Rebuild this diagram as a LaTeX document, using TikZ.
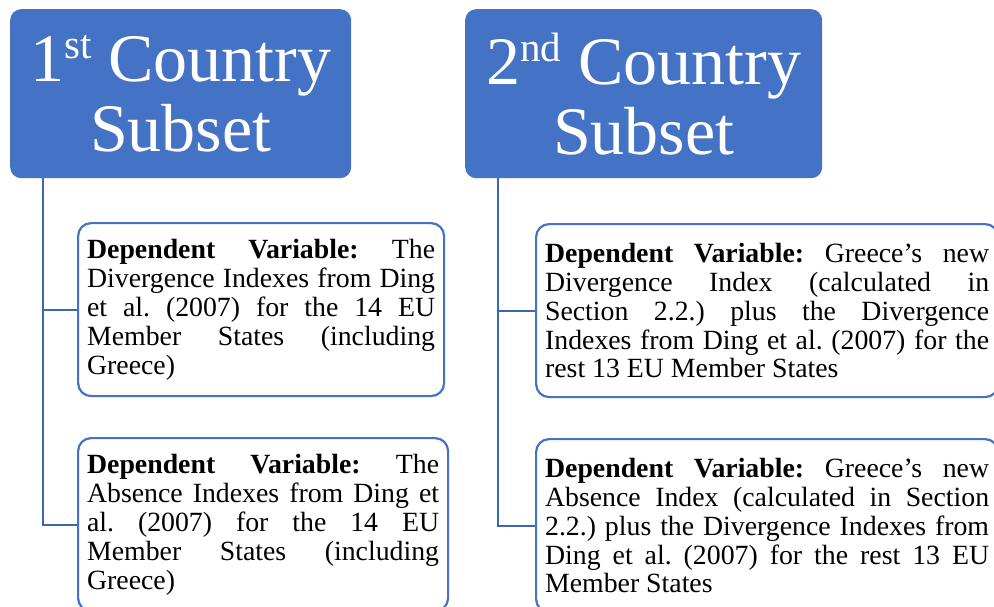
\documentclass[tikz,border=0pt]{standalone}
\usepackage{fontspec}
\setmainfont{Liberation Serif}
\frenchspacing
\definecolor{hdrblue}{HTML}{4472C4}
\definecolor{linkblue}{HTML}{3D66B0}
% ordinal suffix, raised and reduced
\newcommand{\ordsfx}[1]{\raisebox{23pt}{\fontsize{41}{41}\selectfont #1}}
\begin{document}
\begin{tikzpicture}[x=1pt,y=-1pt,
  header/.style={rectangle, rounded corners=11pt, fill=hdrblue, text=white,
    anchor=north west, inner sep=0pt, align=center,
    font=\fontsize{68}{70}\selectfont, minimum height=169pt},
  itembox/.style={rectangle, rounded corners=13pt, draw=hdrblue, line width=2.2pt,
    fill=white, anchor=north west, inner xsep=9pt, inner ysep=0pt,
    minimum height=173pt, align=justify,
    font=\fontsize{27.8}{28.9}\selectfont},
  link/.style={draw=linkblue, line width=2.2pt}]
\clip (0,0) rectangle (994,607);
\fill[white] (0,0) rectangle (994,607);

% group headers
\node[header, minimum width=341pt] (h1) at (10,9) {1\ordsfx{st} Country\\Subset};
\node[header, minimum width=357pt] (h2) at (465,9) {2\ordsfx{nd} Country\\Subset};

% first subset
\node[itembox, text width=348pt] (a1) at (77,222) {\textbf{Dependent Variable:} The\linebreak
Divergence Indexes from Ding\linebreak
et al. (2007) for the 14 EU\linebreak
Member States (including\linebreak
Greece)};
\node[itembox, text width=352pt] (a2) at (77,437) {\textbf{Dependent Variable:} The\linebreak
Absence Indexes from Ding et\linebreak
al. (2007) for the 14 EU\linebreak
Member States (including\linebreak
Greece)};

% second subset
\node[itembox, text width=444pt] (b1) at (535,223) {\textbf{Dependent Variable:} Greece’s new\linebreak
Divergence Index (calculated in\linebreak
Section 2.2.) plus the Divergence\linebreak
Indexes from Ding et al. (2007) for the\linebreak
rest 13 EU Member States};
\node[itembox, text width=444pt] (b2) at (535,438) {\textbf{Dependent Variable:} Greece’s new\linebreak
Absence Index (calculated in Section\linebreak
2.2.) plus the Divergence Indexes from\linebreak
Ding et al. (2007) for the rest 13 EU\linebreak
Member States};

% tree connectors
\coordinate (r1) at ([xshift=33pt]h1.south west);
\coordinate (r2) at ([xshift=33pt]h2.south west);
\draw[link] (r1) |- (a1.west);
\draw[link] (r1) |- (a2.west);
\draw[link] (r2) |- (b1.west);
\draw[link] (r2) |- (b2.west);
\end{tikzpicture}
\end{document}
